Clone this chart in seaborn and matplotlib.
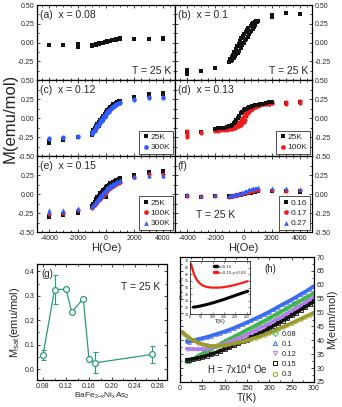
import numpy as np
import pandas as pd
import matplotlib
matplotlib.use("Agg")
import matplotlib.pyplot as plt
import seaborn as sns
from matplotlib.ticker import MultipleLocator, FixedLocator, NullFormatter
from matplotlib.lines import Line2D

sns.set_theme(style="ticks")
plt.rcParams['font.family'] = ['Liberation Sans', 'DejaVu Sans']
plt.rcParams['axes.unicode_minus'] = False
plt.rcParams['mathtext.fontset'] = 'custom'
plt.rcParams['mathtext.rm'] = 'Liberation Sans'
plt.rcParams['mathtext.it'] = 'Liberation Sans'

# ---------------- data: M(H) loops ----------------
H_loop = [-1000, -900, -800, -700, -600, -500, -400, -300, -200, -100, 0,
          100, 200, 300, 400, 500, 600, 700, 800, 900, 1000]
H_loop_fine = [-1000, -950, -900, -850, -800, -750, -700, -650, -600, -550, -500,
               -450, -400, -350, -300, -250, -200, -150, -100, -50, 0, 50, 100,
               150, 200, 250, 300, 350, 400, 450, 500, 550, 600, 650, 700, 750,
               800, 850, 900, 950, 1000]
H_loop_wide = [-2000, -1800, -1600, -1400, -1200, -1000, -900, -800, -700, -600,
               -500, -400, -300, -200, -100, 0, 100, 200, 300, 400, 500, 600,
               700, 800, 900, 1000, 1200, 1400, 1600, 1800, 2000]

# (a) x = 0.08
a_H_out = [-4000, -3000, -2000, -2000, -2000, 2000, 3000, 4000, 4000]
a_M_out = [-0.036, -0.027, -0.02, -0.038, -0.055, 0.05, 0.052, 0.045, 0.062]
a_M_1 = [-0.035, -0.03, -0.028, -0.022, -0.02, -0.012, -0.008, -0.002, 0.0, 0.006, 0.01,
         0.014, 0.02, 0.022, 0.028, 0.03, 0.035, 0.038, 0.042, 0.045, 0.05]
a_M_2 = [-0.042, -0.036, -0.032, -0.028, -0.024, -0.018, -0.012, -0.006, -0.002, 0.004, 0.006,
         0.012, 0.016, 0.025, 0.03, 0.034, 0.038, 0.042, 0.046, 0.052, 0.055]

# (b) x = 0.1
b_H_out = [-4000, -4000, -4000, -3000, -2000, 2000, 2000, 3000, 4000]
b_M_out = [-0.37, -0.395, -0.42, -0.38, -0.34, 0.345, 0.365, 0.39, 0.385]
b_M_loop = [-0.26, -0.22, -0.25, -0.19, -0.23, -0.16, -0.21, -0.12, -0.18, -0.09, -0.15,
            -0.05, -0.14, -0.02, -0.11, 0.02, -0.07, 0.06, -0.03, 0.09, 0.0, 0.12, 0.03,
            0.14, 0.05, 0.17, 0.08, 0.2, 0.11, 0.14, 0.22, 0.15, 0.25, 0.18, 0.26, 0.21,
            0.27, 0.24, 0.28, 0.27, 0.29]

# (c) x = 0.12 : 25K black, 300K blue
c25_H_out = [-4000, -4000, -3000, -3000, -2000, 2000, 3000, 3000, 4000, 4000]
c25_M_out = [-0.305, -0.325, -0.28, -0.295, -0.255, 0.275, 0.3, 0.31, 0.31, 0.325]
c25_M_1 = [-0.22, -0.2, -0.17, -0.15, -0.12, -0.1, -0.07, -0.04, -0.02, 0.01, 0.03,
           0.06, 0.08, 0.1, 0.13, 0.15, 0.17, 0.19, 0.2, 0.21, 0.22]
c25_M_2 = [-0.2, -0.16, -0.13, -0.1, -0.08, -0.05, -0.02, 0.0, 0.03, 0.05, 0.08,
           0.1, 0.12, 0.14, 0.16, 0.18, 0.19, 0.2, 0.21, 0.22, 0.23]
c300_H_out = [-4000, -4000, -3000, -3000, -2000, -2000, 2000, 2000, 3000, 3000, 4000, 4000]
c300_M_out = [-0.26, -0.28, -0.245, -0.26, -0.235, -0.25, 0.24, 0.255, 0.26, 0.275, 0.265, 0.28]
c300_M_1 = [-0.21, -0.19, -0.16, -0.14, -0.12, -0.09, -0.06, -0.04, -0.01, 0.01, 0.04,
            0.06, 0.08, 0.11, 0.13, 0.14, 0.16, 0.18, 0.19, 0.2, 0.2]
c300_M_2 = [-0.19, -0.17, -0.14, -0.11, -0.09, -0.06, -0.03, -0.01, 0.02, 0.04, 0.07,
            0.09, 0.11, 0.12, 0.14, 0.16, 0.17, 0.18, 0.19, 0.2, 0.21]

# (d) x = 0.13 : 25K black, 100K red
d25_H_out = [-4000, -3000, 3000, 4000]
d25_M_out = [-0.19, -0.18, 0.2, 0.215]
d25_M_loop = [-0.14, -0.135, -0.13, -0.125, -0.12, -0.11, -0.1, -0.09, -0.07, -0.05,
              -0.03, 0.0, 0.03, 0.06, 0.08, 0.1, 0.115, 0.125, 0.135, 0.14, 0.15, 0.155,
              0.16, 0.165, 0.17, 0.175, 0.18, 0.19, 0.2, 0.205, 0.21]
d100_H_out = [-4000, -4000, -4000, -4000, -3000, -3000, 3000, 3000, 4000, 4000]
d100_M_out = [-0.17, -0.2, -0.225, -0.25, -0.18, -0.195, 0.19, 0.21, 0.2, 0.22]
d100_M_up = [-0.17, -0.165, -0.16, -0.16, -0.155, -0.15, -0.145, -0.14, -0.135, -0.13,
             -0.12, -0.11, -0.1, -0.09, -0.07, -0.05, -0.02, 0.02, 0.06, 0.09, 0.11,
             0.125, 0.135, 0.145, 0.15, 0.16, 0.17, 0.18, 0.185, 0.19, 0.195]
d100_M_down = [-0.16, -0.155, -0.15, -0.145, -0.14, -0.13, -0.12, -0.11, -0.1, -0.09,
               -0.08, -0.07, -0.05, -0.03, 0.0, 0.03, 0.06, 0.08, 0.1, 0.12, 0.13, 0.14,
               0.15, 0.155, 0.16, 0.165, 0.17, 0.18, 0.185, 0.19, 0.2]

# (e) x = 0.15 : 25K black, 100K red, 300K blue
e25_H_out = [-4000, -4000, -3000, -3000, -2000, -2000, 2000, 2000, 3000, 3000, 4000, 4000]
e25_M_out = [-0.285, -0.305, -0.265, -0.28, -0.24, -0.25, 0.24, 0.255, 0.28, 0.295, 0.29, 0.305]
e25_M_1 = [-0.17, -0.15, -0.12, -0.1, -0.08, -0.05, -0.03, -0.01, 0.02, 0.04, -0.04,
           0.08, 0.1, 0.12, 0.13, 0.15, 0.16, 0.17, 0.18, 0.19, 0.2]
e25_M_2 = [-0.16, -0.13, -0.1, -0.07, -0.04, -0.02, 0.01, 0.03, 0.05, 0.07, 0.09,
           0.11, 0.12, 0.14, 0.15, 0.16, 0.17, 0.18, 0.19, 0.2, 0.21]
e100_H_out = [-4000, -3000, -2000, 2000, 3000, 4000]
e100_M_out = [-0.26, -0.25, -0.205, 0.23, 0.26, 0.26]
e100_M = [-0.18, -0.16, -0.14, -0.12, -0.1, -0.08, -0.06, -0.04, -0.02, 0.0, 0.02,
          0.04, 0.06, 0.08, 0.09, 0.11, 0.12, 0.13, 0.14, 0.15, 0.16]
e300_H_out = [-4000, -4000, -3000, -3000, -2000, -2000, 2000, 2000, 3000, 3000, 4000, 4000]
e300_M_out = [-0.215, -0.235, -0.205, -0.225, -0.18, -0.195, 0.22, 0.235, 0.24, 0.255, 0.24, 0.255]
e300_M_1 = [-0.17, -0.15, -0.13, -0.11, -0.09, -0.06, -0.04, -0.02, 0.0, 0.02, 0.04,
            0.06, 0.08, 0.1, 0.11, 0.12, 0.14, 0.15, 0.16, 0.17, 0.175]
e300_M_2 = [-0.16, -0.14, -0.11, -0.09, -0.06, -0.04, -0.01, 0.01, 0.03, 0.05, 0.07,
            0.09, 0.1, 0.12, 0.13, 0.14, 0.15, 0.16, 0.17, 0.17, 0.18]

# (f) T = 25 K : x = 0.16 black, 0.17 red, 0.27 blue
f16_H_out = [-4000, -3000, -2000, 2000, 3000, 4000, 4000]
f16_M_out = [-0.02, -0.035, -0.03, 0.035, 0.04, 0.03, 0.045]
f16_M_1 = [-0.03, -0.03, -0.028, -0.025, -0.022, -0.02, -0.015, -0.012, -0.008, -0.005, 0.0,
           0.005, 0.01, 0.012, 0.018, 0.02, 0.025, 0.028, 0.032, 0.035, 0.04]
f16_M_2 = [-0.04, -0.035, -0.032, -0.03, -0.026, -0.022, -0.018, -0.015, -0.01, -0.006, -0.002,
           0.002, 0.008, 0.01, 0.015, 0.018, 0.022, 0.026, 0.03, 0.033, 0.036]
f17_H_out = [-4000, -3000, -2000, 2000, 3000, 4000]
f17_M_out = [-0.028, -0.032, -0.028, 0.05, 0.045, 0.05]
f17_M = [-0.035, -0.03, -0.025, -0.02, -0.018, -0.012, -0.008, -0.004, 0.0, 0.005, 0.01,
         0.015, 0.02, 0.025, 0.03, 0.035, 0.04, 0.045, 0.05, 0.05, 0.055]
f27_H_out = [-4000, -3000, -2000, 2000, 3000, 4000]
f27_M_out = [0.0, -0.02, -0.008, 0.075, 0.075, 0.07]
f27_M = [-0.02, -0.018, -0.015, -0.01, -0.005, 0.0, 0.005, 0.01, 0.015, 0.02, 0.03,
         0.035, 0.045, 0.05, 0.06, 0.065, 0.07, 0.075, 0.08, 0.085, 0.09]

# ---------------- data: (g) Msat vs x ----------------
g_x = [0.08, 0.10, 0.12, 0.13, 0.15, 0.16, 0.17, 0.27]
g_M = [0.057, 0.325, 0.327, 0.233, 0.288, 0.040, 0.025, 0.060]
g_err = [0.021, 0.058, 0.004, 0.004, 0.006, 0.006, 0.043, 0.034]

# ---------------- data: (h) M vs T ----------------
T_h = [15, 20, 30, 40, 50, 60, 70, 80, 90, 100, 110, 120, 130, 140, 150, 160, 170,
       180, 190, 200, 210, 220, 230, 240, 250, 260, 270, 280, 290, 300]
M_008 = [32.5, 32.7, 33.4, 34.3, 35.2, 36.1, 36.9, 37.8, 38.7, 39.6, 40.4, 41.2, 42.1,
         42.9, 43.8, 44.6, 45.4, 46.3, 47.1, 48.0, 48.9, 49.8, 50.7, 51.6, 52.5, 53.4,
         54.3, 55.2, 56.1, 57.0]
M_010 = [39.8, 39.5, 40.0, 40.4, 40.8, 41.2, 41.7, 42.2, 42.7, 43.2, 43.8, 44.4, 45.1,
         45.8, 46.5, 47.2, 48.0, 48.7, 49.5, 50.3, 51.2, 52.1, 53.0, 53.8, 54.7, 55.6,
         56.6, 57.5, 58.5, 59.5]
M_012 = [37.0, 36.9, 36.8, 36.8, 36.8, 37.0, 37.3, 37.8, 38.3, 38.8, 39.4, 40.0, 40.6,
         41.3, 42.0, 42.8, 43.6, 44.4, 45.2, 46.0, 46.9, 47.8, 48.7, 49.6, 50.5, 51.5,
         52.5, 53.5, 54.5, 55.5]
M_015 = [33.0, 33.1, 33.3, 33.6, 34.0, 34.5, 35.0, 35.6, 36.2, 36.8, 37.5, 38.2, 38.9,
         39.6, 40.3, 41.1, 41.9, 42.7, 43.5, 44.4, 45.3, 46.2, 47.1, 48.0, 49.0, 50.0,
         51.0, 52.0, 53.0, 54.0]
T_h_03 = [5, 10, 15, 20, 30, 40, 50, 60, 70, 80, 90, 100, 110, 120, 130, 140, 150, 160,
          170, 180, 190, 200, 210, 220, 230, 240, 250, 260, 270, 280, 290, 300]
M_03 = [43.0, 42.3, 41.6, 41.0, 40.0, 39.2, 38.6, 38.2, 38.0, 38.0, 38.1, 38.3, 38.6,
        38.9, 39.3, 39.6, 40.0, 40.5, 41.0, 41.5, 42.1, 42.8, 43.4, 44.1, 44.8, 45.5,
        46.2, 47.0, 47.7, 48.5, 49.2, 50.0]
h_labels = ['0.08', '0.1', '0.12', '0.15', '0.3']

# inset
T_in_b = [15, 30, 45, 60, 75, 90, 105, 120, 135, 150, 165, 180, 195, 210, 225, 240, 255]
M_in_b = [35.2, 35.5, 36.0, 36.6, 37.2, 37.9, 38.6, 39.4, 40.2, 41.0, 41.9, 42.8, 43.7,
          44.6, 45.5, 46.4, 47.2]
T_in_r = [5, 10, 15, 20, 30, 40, 50, 60, 75, 90, 105, 120, 135, 150, 165, 180, 195,
          210, 225, 240, 255]
M_in_r = [67.6, 64.5, 61.5, 59.0, 55.8, 53.6, 52.2, 51.2, 50.4, 50.0, 49.9, 49.9, 50.0,
          50.3, 50.7, 51.2, 51.8, 52.5, 53.2, 54.0, 54.8]

# ---------------- figure ----------------
W, Hh = 342, 407
fig = plt.figure(figsize=(W / 100, Hh / 100), dpi=100)
fig.patch.set_facecolor('white')


def rect(x0, y0, x1, y1):
    return [x0 / W, 1 - y1 / Hh, (x1 - x0) / W, (y1 - y0) / Hh]


BLK, RED, BLU = '#111111', '#ee1c1c', '#2f5cff'
S = 9
TFS = 5


def style_axes(ax):
    ax.tick_params(direction='in', which='both', top=True, bottom=True, left=True,
                   right=True, labelsize=TFS, width=0.6, pad=2)
    ax.tick_params(which='major', length=2.5)
    ax.tick_params(which='minor', length=1.5)
    for sp in ax.spines.values():
        sp.set_linewidth(0.9)
        sp.set_color('black')


def scat(ax, H, M, color, marker='s', label=None, s=S):
    sns.scatterplot(x=H, y=M, ax=ax, color=color, marker=marker, s=s,
                    linewidth=0, label=label, legend=False)


cols = [(37, 175), (175, 312)]
rows = [(5, 80), (80, 156), (156, 232)]
axs = {}
names = [['a', 'b'], ['c', 'd'], ['e', 'f']]
for r, (y0, y1) in enumerate(rows):
    for c, (x0, x1) in enumerate(cols):
        ax = fig.add_axes(rect(x0, y0, x1, y1))
        axs[names[r][c]] = ax
        ax.set_xlim(-4870, 4870)
        ax.set_ylim(-0.5, 0.5)
        style_axes(ax)
        ax.xaxis.set_major_locator(MultipleLocator(2000))
        ax.xaxis.set_minor_locator(MultipleLocator(500))
        if r == 0:
            yt = [-0.25, 0.0, 0.25, 0.5]
        elif r == 1:
            yt = [-0.5, -0.25, 0.0, 0.25, 0.5]
        else:
            yt = [-0.5, -0.25, 0.0, 0.25]
        ax.yaxis.set_major_locator(FixedLocator(yt))
        ax.yaxis.set_minor_locator(MultipleLocator(0.125))
        ax.yaxis.set_major_formatter(plt.FuncFormatter(lambda v, p: f"{v:.2f}"))
        if c == 1:
            ax.tick_params(labelleft=False, labelright=True)
        if r < 2:
            ax.tick_params(labelbottom=False)
        ax.set_xlabel('')
        ax.set_ylabel('')

# (a)
ax = axs['a']
scat(ax, a_H_out, a_M_out, BLK)
scat(ax, H_loop, a_M_1, BLK)
scat(ax, H_loop, a_M_2, BLK)
ax.text(0.02, 0.93, '(a)  x = 0.08', transform=ax.transAxes, fontsize=7.5, va='top')
ax.text(0.97, 0.06, 'T = 25 K', transform=ax.transAxes, fontsize=7.5, ha='right', va='bottom')

# (b)
ax = axs['b']
scat(ax, b_H_out, b_M_out, BLK)
scat(ax, H_loop_fine, b_M_loop, BLK)
ax.text(0.02, 0.93, '(b)  x = 0.1', transform=ax.transAxes, fontsize=7.5, va='top')
ax.text(0.97, 0.06, 'T = 25 K', transform=ax.transAxes, fontsize=7.5, ha='right', va='bottom')


def leg(ax, handles, labels):
    lg = ax.legend(handles, labels, loc='lower right', fontsize=6, frameon=True,
                   fancybox=False, borderpad=0.3, handletextpad=0.1, handlelength=1.0,
                   labelspacing=0.3, borderaxespad=0.25)
    lg.get_frame().set_edgecolor('black')
    lg.get_frame().set_linewidth(0.6)


def mk(marker, color):
    return Line2D([], [], ls='none', marker=marker, color=color, markersize=3.4, mew=0)


# (c)
ax = axs['c']
scat(ax, c25_H_out, c25_M_out, BLK)
scat(ax, H_loop, c25_M_1, BLK)
scat(ax, H_loop, c25_M_2, BLK)
scat(ax, c300_H_out, c300_M_out, BLU, marker='o')
scat(ax, H_loop, c300_M_1, BLU, marker='o')
scat(ax, H_loop, c300_M_2, BLU, marker='o')
ax.text(0.02, 0.93, '(c)  x = 0.12', transform=ax.transAxes, fontsize=7.5, va='top')
leg(ax, [mk('s', BLK), mk('o', BLU)], ['25K', '300K'])

# (d)
ax = axs['d']
scat(ax, d25_H_out, d25_M_out, BLK)
scat(ax, d100_H_out, d100_M_out, RED, marker='o')
scat(ax, H_loop_wide, d100_M_up, RED, marker='o')
scat(ax, H_loop_wide, d100_M_down, RED, marker='o')
scat(ax, H_loop_wide, d25_M_loop, BLK)
ax.text(0.02, 0.93, '(d)  x = 0.13', transform=ax.transAxes, fontsize=7.5, va='top')
leg(ax, [mk('s', BLK), mk('o', RED)], ['25K', '100K'])

# (e)
ax = axs['e']
scat(ax, e25_H_out, e25_M_out, BLK)
scat(ax, H_loop, e25_M_1, BLK)
scat(ax, H_loop, e25_M_2, BLK)
scat(ax, e100_H_out, e100_M_out, RED, marker='o')
scat(ax, H_loop, e100_M, RED, marker='o')
scat(ax, e300_H_out, e300_M_out, BLU, marker='^')
scat(ax, H_loop, e300_M_1, BLU, marker='^')
scat(ax, H_loop, e300_M_2, BLU, marker='^')
ax.text(0.02, 0.93, '(e)  x = 0.15', transform=ax.transAxes, fontsize=7.5, va='top')
leg(ax, [mk('s', BLK), mk('o', RED), mk('^', BLU)], ['25K', '100K', '300K'])
ax.set_xlabel('H(Oe)', fontsize=8, labelpad=1)

# (f)
ax = axs['f']
scat(ax, f16_H_out, f16_M_out, BLK)
scat(ax, H_loop, f16_M_1, BLK)
scat(ax, H_loop, f16_M_2, BLK)
scat(ax, f17_H_out, f17_M_out, RED, marker='o')
scat(ax, H_loop, f17_M, RED, marker='o')
scat(ax, f27_H_out, f27_M_out, BLU, marker='^')
scat(ax, H_loop, f27_M, BLU, marker='^')
ax.text(0.02, 0.93, '(f)', transform=ax.transAxes, fontsize=7.5, va='top')
ax.text(0.15, 0.22, 'T = 25 K', transform=ax.transAxes, fontsize=7.5, va='center')
leg(ax, [mk('s', BLK), mk('o', RED), mk('^', BLU)], ['0.16', '0.17', '0.27'])
ax.set_xlabel('H(Oe)', fontsize=8, labelpad=1)

fig.text(10 / W, 1 - 118 / Hh, 'M(emu/mol)', rotation=90, fontsize=12,
         ha='center', va='center')

# ---------------- (g) ----------------
GC = '#2b9b78'
axg = fig.add_axes(rect(37, 264, 167, 380))
axg.errorbar(g_x, g_M, yerr=g_err, fmt='none', ecolor=GC, elinewidth=0.8,
             capsize=1.8, capthick=0.8)
sns.lineplot(x=g_x, y=g_M, ax=axg, color=GC, lw=0.9, marker='o', markersize=4.2,
             markerfacecolor='white', markeredgecolor=GC, markeredgewidth=0.9)
axg.set_xlim(0.0695, 0.2957)
axg.set_ylim(-0.045, 0.43)
style_axes(axg)
axg.xaxis.set_major_locator(MultipleLocator(0.04))
axg.xaxis.set_minor_locator(MultipleLocator(0.02))
axg.xaxis.set_major_formatter(plt.FuncFormatter(lambda v, p: f"{v:.2f}"))
axg.yaxis.set_major_locator(MultipleLocator(0.1))
axg.yaxis.set_minor_locator(MultipleLocator(0.05))
axg.yaxis.set_major_formatter(plt.FuncFormatter(lambda v, p: f"{v:.1f}"))
axg.set_xlabel(r'BaFe$_{2\mathregular{-}x}$Ni$_x$As$_2$', fontsize=6, labelpad=1)
axg.set_ylabel(r'M$_{sat}$(emu/mol)', fontsize=8, labelpad=2)
axg.text(0.03, 0.96, '(g)', transform=axg.transAxes, fontsize=7, va='top')
axg.text(0.95, 0.78, 'T = 25 K', transform=axg.transAxes, fontsize=7.5, ha='right')

# ---------------- (h) ----------------
axh = fig.add_axes(rect(180, 257, 314, 382))
h_colors = ['#3fb54a', '#3b6cf0', '#b27ff0', '#111111', '#9c9c2e']
h_markers = ['D', '^', 'v', 's', 'o']
h_series = [(T_h, M_008), (T_h, M_010), (T_h, M_012), (T_h, M_015), (T_h_03, M_03)]
for (tt, mm), col, mkr in zip(h_series, h_colors, h_markers):
    sns.lineplot(x=tt, y=mm, ax=axh, color=col, lw=2.6, marker=mkr, markersize=2.6,
                 markerfacecolor='none', markeredgecolor=col, markeredgewidth=0.6)
axh.set_xlim(0, 300)
axh.set_ylim(25, 70)
style_axes(axh)
axh.xaxis.set_major_locator(MultipleLocator(50))
axh.xaxis.set_minor_locator(MultipleLocator(25))
axh.yaxis.set_major_locator(MultipleLocator(5))
axh.yaxis.set_minor_locator(MultipleLocator(2.5))
axh.tick_params(labelleft=False, labelright=True)
axh.yaxis.set_label_position('right')
axh.set_ylabel('M(eum/mol)', fontsize=8, labelpad=2)
axh.set_xlabel('T(K)', fontsize=7.5, labelpad=1)
axh.text(0.63, 0.905, '(h)', transform=axh.transAxes, fontsize=7, va='center')
axh.text(0.2, 0.1, r'H = 7x10$^{4}$ Oe', transform=axh.transAxes, fontsize=7, va='center')
hh = [Line2D([], [], ls='none', marker=m, markerfacecolor='none', markeredgecolor=c,
             markersize=3, markeredgewidth=0.7) for m, c in zip(h_markers, h_colors)]
axh.legend(hh, h_labels, loc='lower right', bbox_to_anchor=(0.9, 0.0), fontsize=5.5,
           frameon=False, handletextpad=0.3, handlelength=1.2, labelspacing=0.35,
           borderaxespad=0.3, borderpad=0.2)

# inset
axi = fig.add_axes(rect(190, 261, 250, 314))
sns.lineplot(x=T_in_b, y=M_in_b, ax=axi, color='black', lw=2.2, label='x=0.15')
sns.lineplot(x=T_in_r, y=M_in_r, ax=axi, color='#ff1a1a', lw=1.6, label='x=0.15,y=0.03')
axi.set_xlim(0, 265)
axi.set_ylim(30, 70)
axi.tick_params(direction='in', which='both', top=True, right=True, labelsize=2.6,
                length=1.2, width=0.4, pad=1)
for sp in axi.spines.values():
    sp.set_linewidth(0.6)
axi.xaxis.set_major_locator(MultipleLocator(50))
axi.yaxis.set_major_locator(MultipleLocator(5))
axi.set_xlabel('T(K)', fontsize=4, labelpad=0)
axi.set_ylabel('M(eum/mol)', fontsize=2.8, labelpad=0.5)
lgi = axi.legend(loc='upper right', fontsize=3.2, frameon=False, handlelength=0.6,
                 handletextpad=0.4, labelspacing=0.5, borderaxespad=0.4)
for l in lgi.get_lines():
    l.set_linewidth(2.5)

fig.savefig('out.png', dpi=100, facecolor='white')
